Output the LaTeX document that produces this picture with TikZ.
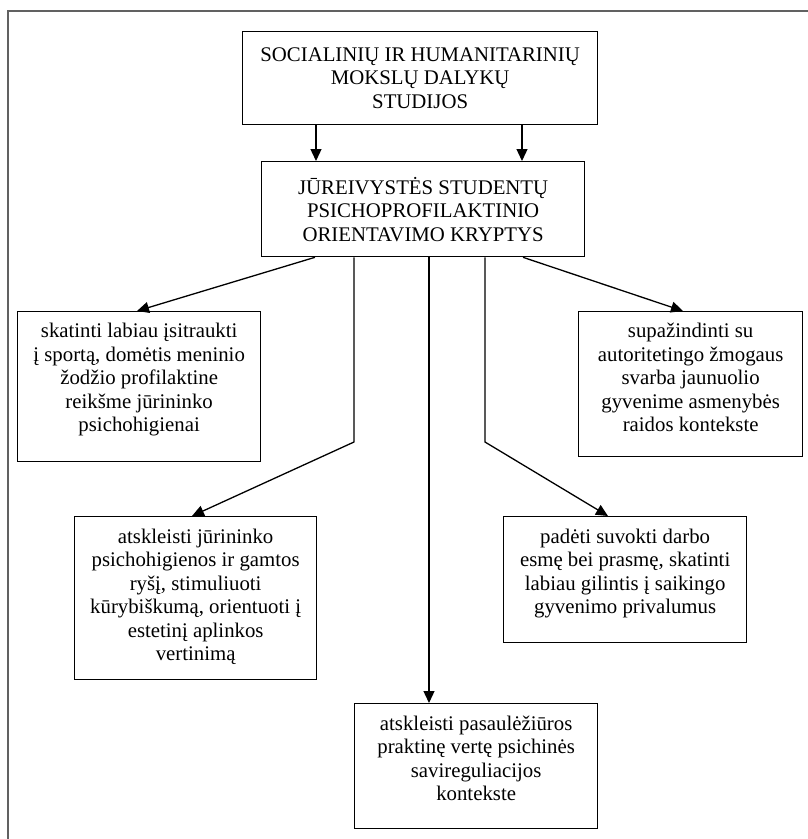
\documentclass[tikz,border=0pt]{standalone}
\usepackage{fontspec}
\setmainfont{Liberation Serif}
\usetikzlibrary{arrows.meta}
\begin{document}
\begin{tikzpicture}[x=1pt,y=-1pt,
  box/.style={draw, line width=1.3pt, rectangle, anchor=north west, inner sep=0pt},
  cbox/.style={box, align=center, font=\fontsize{20.8}{23.5}\selectfont},
  txt/.style={align=center, inner sep=0pt, font=\fontsize{20.8}{23.5}\selectfont, anchor=north},
  arr/.style={line width=1.3pt, -{Triangle[length=12pt,width=11pt]}},
  frame/.style={line width=1.4pt, draw=black!62}]
\useasboundingbox (0,0) rectangle (808,839);
% frame
\draw[frame] (8,839) -- (8,11) -- (808,11);
% boxes
\node[cbox, minimum width=355pt, minimum height=93pt] (top) at (242,31)
  {SOCIALINIŲ IR HUMANITARINIŲ\\MOKSLŲ DALYKŲ\\STUDIJOS};
\node[cbox, minimum width=323pt, minimum height=95pt] (mid) at (261,161)
  {JŪREIVYSTĖS STUDENTŲ\\PSICHOPROFILAKTINIO\\ORIENTAVIMO KRYPTYS};
\node[box, minimum width=243pt, minimum height=150pt] (l1) at (17,311) {};
\node[txt] (l1t) at ([yshift=-12pt]l1.north)
  {skatinti labiau įsitraukti\\į sportą, domėtis meninio\hspace*{9pt}\\žodžio profilaktine\\reikšme jūrininko\\psichohigienai};
\node[box, minimum width=224pt, minimum height=145pt] (r1) at (578,311) {};
\node[txt] (r1t) at ([yshift=-12pt]r1.north)
  {supažindinti su\\autoritetingo žmogaus\\svarba jaunuolio\\gyvenime asmenybės\\raidos kontekste};
\node[box, minimum width=242pt, minimum height=163pt] (l2) at (74,516) {};
\node[txt] (l2t) at ([yshift=-12.5pt]l2.north)
  {atskleisti jūrininko\\psichohigienos ir gamtos\\ryšį, stimuliuoti\\kūrybiškumą, orientuoti į\\estetinį aplinkos\\vertinimą};
\node[box, minimum width=243pt, minimum height=126pt] (r2) at (503,516) {};
\node[txt] (r2t) at ([yshift=-12.5pt]r2.north)
  {padėti suvokti darbo\\esmę bei prasmę, skatinti\\labiau gilintis į saikingo\\gyvenimo privalumus};
\node[box, minimum width=243pt, minimum height=125pt] (bot) at (354,703) {};
\node[txt] (bott) at ([yshift=-12.5pt]bot.north)
  {atskleisti pasaulėžiūros\\praktinę vertę psichinės\\savireguliacijos\\kontekste};
% helper coordinates
\coordinate (xa) at (316,0);
\coordinate (xb) at (522,0);
\coordinate (xl) at (315,0);
\coordinate (xr) at (523,0);
\coordinate (xl1) at (137,0);
\coordinate (xr1) at (683,0);
\coordinate (bendL) at (354,442);
\coordinate (bendR) at (485,442);
\coordinate (xc) at (429,0);
\coordinate (xl2) at (192,0);
\coordinate (xr2) at (608,0);
% connectors
\draw[arr] (top.south -| xa) -- (mid.north -| xa);
\draw[arr] (top.south -| xb) -- (mid.north -| xb);
\draw[arr] (mid.south -| xl) -- (l1.north -| xl1);
\draw[arr] (mid.south -| xr) -- (r1.north -| xr1);
\draw[arr] (mid.south -| bendL) -- (bendL) -- (l2.north -| xl2);
\draw[arr] (mid.south -| bendR) -- (bendR) -- (r2.north -| xr2);
\draw[arr] (mid.south -| xc) -- (bot.north -| xc);
\end{tikzpicture}
\end{document}
